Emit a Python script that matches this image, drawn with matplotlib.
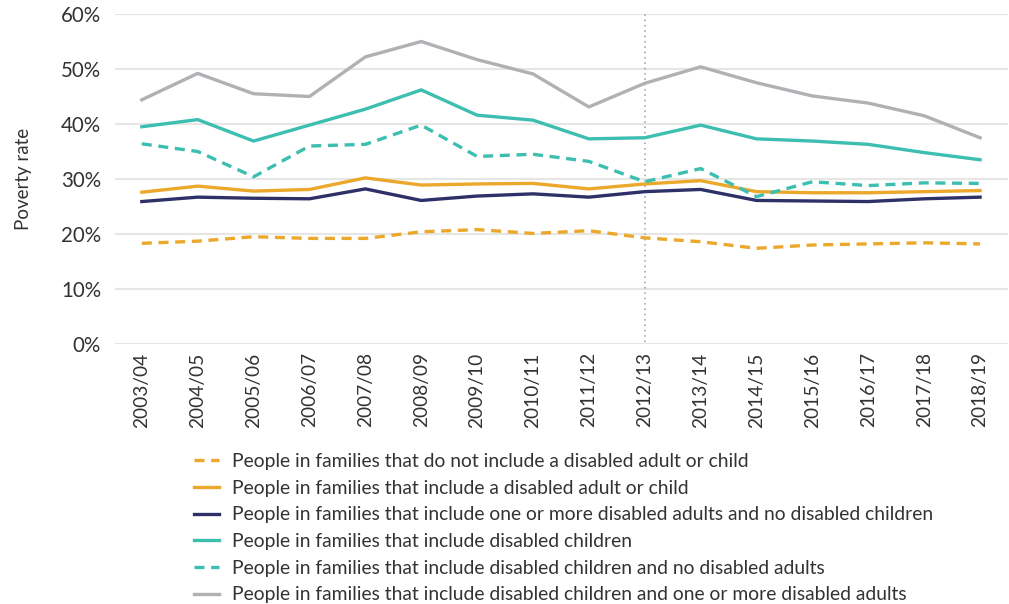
import matplotlib
matplotlib.use("Agg")
import matplotlib.pyplot as plt

plt.rcParams['font.family'] = ['Lato', 'DejaVu Sans']

years = ["2003/04", "2004/05", "2005/06", "2006/07", "2007/08", "2008/09", "2009/10", "2010/11",
         "2011/12", "2012/13", "2013/14", "2014/15", "2015/16", "2016/17", "2017/18", "2018/19"]

no_disabled = [18.3, 18.7, 19.5, 19.2, 19.2, 20.4, 20.8, 20.1, 20.6, 19.3, 18.6, 17.4, 18.0, 18.2, 18.4, 18.2]
any_disabled = [27.6, 28.7, 27.8, 28.1, 30.2, 28.9, 29.1, 29.2, 28.2, 29.1, 29.7, 27.7, 27.5, 27.5, 27.7, 27.9]
adults_only = [25.9, 26.7, 26.5, 26.4, 28.2, 26.1, 26.9, 27.3, 26.7, 27.7, 28.1, 26.1, 26.0, 25.9, 26.4, 26.7]
children = [39.5, 40.8, 36.9, 39.8, 42.7, 46.2, 41.6, 40.7, 37.3, 37.5, 39.8, 37.3, 36.9, 36.3, 34.8, 33.5]
children_only = [36.4, 35.0, 30.4, 36.0, 36.3, 39.8, 34.1, 34.5, 33.2, 29.5, 31.9, 26.8, 29.5, 28.8, 29.3, 29.2]
children_adults = [44.4, 49.2, 45.5, 45.0, 52.2, 55.0, 51.7, 49.1, 43.1, 47.4, 50.4, 47.5, 45.1, 43.8, 41.5, 37.5]

labels = [
    "People in families that do not include a disabled adult or child",
    "People in families that include a disabled adult or child",
    "People in families that include one or more disabled adults and no disabled children",
    "People in families that include disabled children",
    "People in families that include disabled children and no disabled adults",
    "People in families that include disabled children and one or more disabled adults",
]

ORANGE, NAVY, TEAL, GREY = "#EBA82B", "#2E3068", "#3CBFB0", "#B1B1B5"
series = [
    (no_disabled, ORANGE, True),
    (any_disabled, ORANGE, False),
    (adults_only, NAVY, False),
    (children, TEAL, False),
    (children_only, TEAL, True),
    (children_adults, GREY, False),
]

fig = plt.figure(figsize=(10.09, 6.04), dpi=100)
ax = fig.add_axes([115/1009, 1 - 344/604, 893/1009, 330/604])

x = list(range(len(years)))
# vertical marker at 2012/13
ax.plot([9, 9], [0.3, 60.3], color="#9A9A9A", lw=1.1, ls=(0, (1, 2.5)), zorder=1)

for (vals, col, dashed), lab in zip(series, labels):
    if dashed:
        ax.plot(x, vals, color=col, lw=2.4, dashes=(3, 2), label=lab, zorder=3)
    else:
        ax.plot(x, vals, color=col, lw=2.4, label=lab, zorder=3)

ax.set_xlim(-0.48, 15.5)
ax.set_ylim(0, 60)
ax.set_yticks(range(0, 61, 10))
ax.set_yticklabels([f"{v}%" for v in range(0, 61, 10)], fontsize=14.8, color="#333333")
ax.set_xticks(x)
ax.set_xticklabels(years, rotation=90, fontsize=13.8, color="#333333")
ax.tick_params(axis="x", length=0, pad=6)
ax.tick_params(axis="y", length=0, pad=10)
ax.grid(axis="y", color="#E6E6E6", lw=1.5)
ax.set_axisbelow(True)
for s in ax.spines.values():
    s.set_visible(False)
ax.set_ylabel("Poverty rate", fontsize=13.5, color="#333333")
ax.yaxis.set_label_coords(-0.093, 0.5)

fig.legend(loc="upper left", bbox_to_anchor=(194/1009, 1 - 453/604), frameon=False,
           fontsize=13.9, handlelength=1.3, handletextpad=0.67, labelspacing=0.50,
           borderpad=0, borderaxespad=0, labelcolor="#333333")

fig.savefig("out.png", dpi=100)
